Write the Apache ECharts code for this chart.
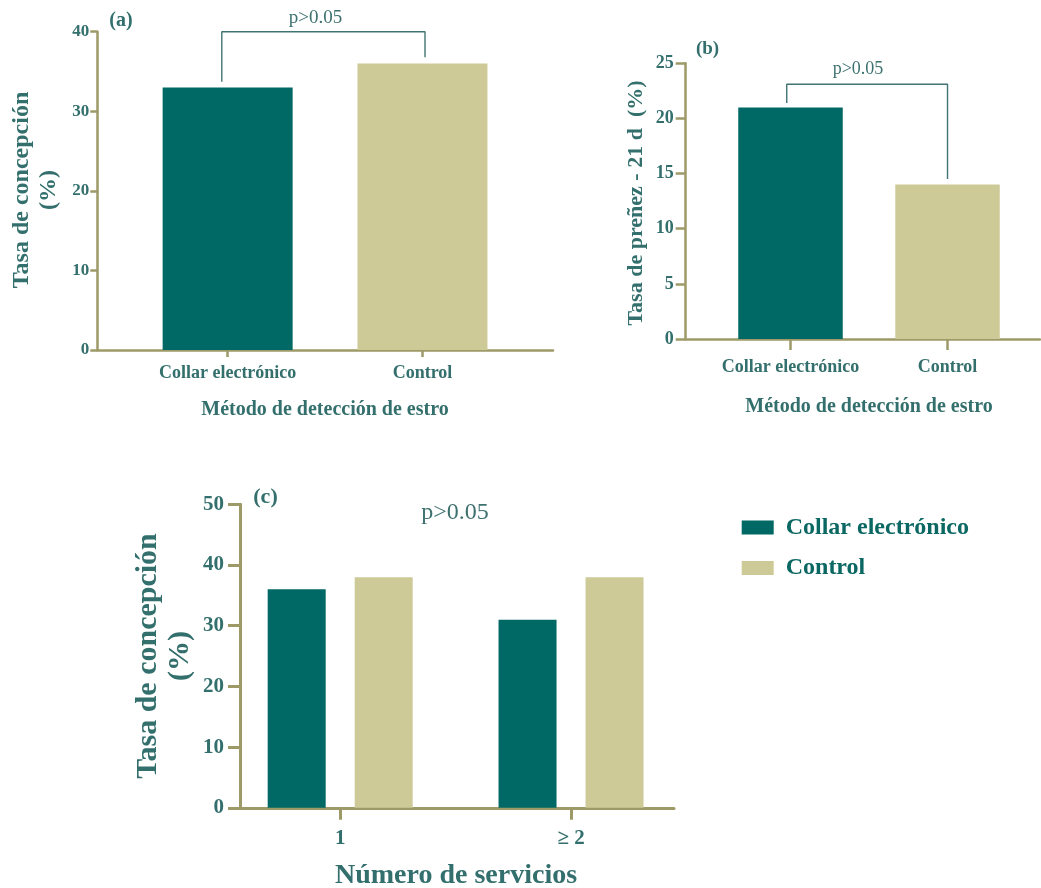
<!DOCTYPE html>
<html>
<head>
<meta charset="utf-8">
<script src="https://cdn.jsdelivr.net/npm/echarts@6/dist/echarts.min.js"></script>
<style>
  html, body { margin: 0; padding: 0; background: #ffffff; }
  #chart { width: 1041px; height: 888px; }
</style>
</head>
<body>
<div id="chart"></div>
<script>
// ---- data ----
const seriesNames = ['Collar electrónico', 'Control'];
const catsA = ['Collar electrónico', 'Control'];
const valuesA = [33, 36];
const catsB = ['Collar electrónico', 'Control'];
const valuesB = [21, 14];
const groupsC = ['1', '≥ 2'];
const collarC = [36, 31];
const controlC = [38, 38];
const bracketA = [[-0.03, 33.7], [-0.03, 40], [1.013, 40], [1.013, 36.8]];
const bracketB = [[-0.024, 21.4], [-0.024, 23.1], [1.0, 23.1], [1.0, 14.5]];
const pLabel = 'p>0.05';
const yTitleA = 'Tasa de concepción\n(%)';
const yTitleB = 'Tasa de preñez - 21 d  (%)';
const yTitleC = 'Tasa de concepción\n(%)';
const xTitleAB = 'Método de detección de estro';
const xTitleC = 'Número de servicios';

// ---- styles ----
const TEAL = '#006865';
const TAN = '#cdca98';
const AXIS = '#9d9a68';
const TXT = '#336f6c';
const LEG = '#0a6762';
const SERIF = '"Liberation Serif", "Times New Roman", serif';
const barColors = [TEAL, TAN];

const chart = echarts.init(document.getElementById('chart'), null, { renderer: 'canvas' });

function xAxisCfg(gi, min, max, labels, tickLen, margin, fs, lw) {
  return {
    type: 'value', gridIndex: gi, min: min, max: max,
    splitLine: { show: false },
    axisLine: { show: true, onZero: false, lineStyle: { color: AXIS, width: lw } },
    axisTick: { show: true, customValues: [0, 1], length: tickLen, lineStyle: { color: AXIS, width: lw } },
    axisLabel: {
      show: true, customValues: [0, 1], margin: margin,
      formatter: function (v) { return labels[Math.round(v)]; },
      color: TXT, fontFamily: SERIF, fontWeight: 'bold', fontSize: fs
    }
  };
}
function yAxisCfg(gi, max, interval, tickLen, margin, fs, lw) {
  return {
    type: 'value', gridIndex: gi, min: 0, max: max, interval: interval,
    splitLine: { show: false },
    axisLine: { show: true, onZero: false, lineStyle: { color: AXIS, width: lw } },
    axisTick: { show: true, length: tickLen, lineStyle: { color: AXIS, width: lw } },
    axisLabel: { margin: margin, color: TXT, fontFamily: SERIF, fontWeight: 'bold', fontSize: fs }
  };
}
function txt(x, y, text, fs, bold, rot, color, lh) {
  return {
    type: 'text', x: x, y: y, rotation: rot || 0, silent: true,
    style: {
      text: text, fill: color || TXT, textAlign: 'center', textVerticalAlign: 'middle',
      font: (bold ? 'bold ' : '') + fs + 'px ' + SERIF,
      lineHeight: lh || fs
    }
  };
}

const option = {
  animation: false,
  backgroundColor: '#ffffff',
  grid: [
    { left: 97.3, top: 31.7, width: 455.7, height: 318.3, containLabel: false, outerBoundsMode: 'none' },
    { left: 685.7, top: 63.3, width: 354.3, height: 275.7, containLabel: false, outerBoundsMode: 'none' },
    { left: 240, top: 504.3, width: 434, height: 303.5, containLabel: false, outerBoundsMode: 'none' }
  ],
  xAxis: [
    xAxisCfg(0, -0.669, 1.670, catsA, 7, 14, 18, 2.5),
    xAxisCfg(1, -0.6675, 1.589, catsB, 11, 19, 18, 2.5),
    xAxisCfg(2, -0.434, 1.446, groupsC, 12, 20, 21, 3)
  ],
  yAxis: [
    yAxisCfg(0, 40, 10, 7, 8, 17, 2.5),
    yAxisCfg(1, 25, 5, 10, 12, 18, 2.5),
    yAxisCfg(2, 50, 10, 12, 16, 21, 3)
  ],
  legend: {
    data: seriesNames,
    orient: 'vertical',
    left: 736.7, top: 509.5,
    itemWidth: 32, itemHeight: 14, itemGap: 14.5,
    icon: 'rect',
    textStyle: { color: LEG, fontFamily: SERIF, fontWeight: 'bold', fontSize: 24, lineHeight: 26, padding: [0, 0, 0, 7] }
  },
  series: [
    {
      type: 'bar', name: 'a', xAxisIndex: 0, yAxisIndex: 0, barWidth: 130, silent: true,
      data: valuesA.map(function (v, i) { return { value: [i, v], itemStyle: { color: barColors[i] } }; })
    },
    {
      type: 'line', name: 'bracketA', xAxisIndex: 0, yAxisIndex: 0, data: bracketA, symbol: 'none',
      clip: false, silent: true, z: 5, lineStyle: { color: '#3f7471', width: 1.4 }
    },
    {
      type: 'bar', name: 'b', xAxisIndex: 1, yAxisIndex: 1, barWidth: 104.5, silent: true,
      data: valuesB.map(function (v, i) { return { value: [i, v], itemStyle: { color: barColors[i] } }; })
    },
    {
      type: 'line', name: 'bracketB', xAxisIndex: 1, yAxisIndex: 1, data: bracketB, symbol: 'none',
      clip: false, silent: true, z: 5, lineStyle: { color: '#3f7471', width: 1.4 }
    },
    {
      type: 'bar', name: seriesNames[0], xAxisIndex: 2, yAxisIndex: 2, barWidth: 58, barGap: '50%', silent: true,
      itemStyle: { color: TEAL },
      data: collarC.map(function (v, i) { return [i, v]; })
    },
    {
      type: 'bar', name: seriesNames[1], xAxisIndex: 2, yAxisIndex: 2, barWidth: 58, barGap: '50%', silent: true,
      itemStyle: { color: TAN },
      data: controlC.map(function (v, i) { return [i, v]; })
    }
  ],
  graphic: [
    txt(121, 21, '(a)', 20, true),
    txt(707.5, 49, '(b)', 19, true),
    txt(265.5, 497, '(c)', 22, true),
    txt(315.5, 18, pLabel, 19, false, 0, '#3d716e'),
    txt(858, 69, pLabel, 18, false, 0, '#3d716e'),
    txt(455, 513, pLabel, 24, false, 0, '#3d716e'),
    txt(325, 409.5, xTitleAB, 20, true),
    txt(869, 406.5, xTitleAB, 20, true),
    txt(456, 876, xTitleC, 28, true),
    txt(35.3, 190, yTitleA, 24, true, Math.PI / 2, TXT, 27),
    txt(636.7, 203, yTitleB, 22, true, Math.PI / 2, TXT),
    txt(164, 656, yTitleC, 30, true, Math.PI / 2, TXT, 32)
  ]
};
chart.setOption(option);
</script>
</body>
</html>
